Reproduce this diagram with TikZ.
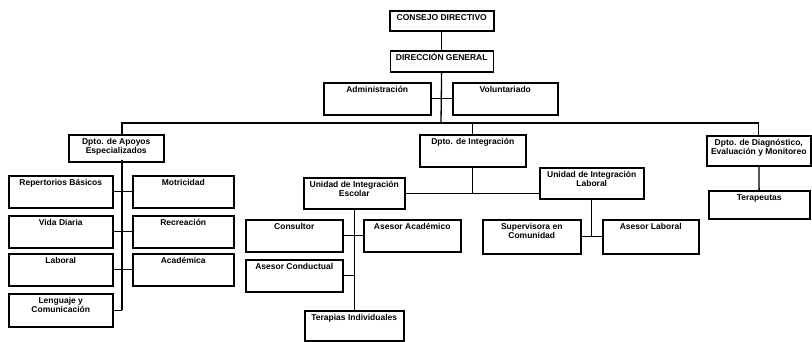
\documentclass[tikz,border=0pt]{standalone}
\usepackage{fontspec}
\setmainfont{Liberation Sans}
\usetikzlibrary{positioning}

\begin{document}
\begin{tikzpicture}[x=1pt,y=-1pt]
\tikzstyle{cargo}=[
        draw,
        rectangle,
        line width=1.5pt,
        anchor=north west,
        align=center,
        inner xsep=2pt,
        inner ysep=3pt,
        text height=6.5pt,
        text depth=19.5pt,
        font=\bfseries\fontsize{8.5}{9.5}\selectfont
]
\tikzstyle{cargodos}=[cargo,text height=16pt]
%estilodelaslineas
\tikzstyle{enlace}=[line width=1.3pt]
\useasboundingbox (0,0) rectangle (812,341);
%nodos
\node[cargo,minimum width=104pt,text depth=7.5pt] (consejo) at (389,10) {CONSEJO DIRECTIVO};
\node[cargo,minimum width=103pt,text depth=8.5pt] (direccion) at (389.5,50) {DIRECCIÓN GENERAL};
\node[cargo,minimum width=107pt] (admin) at (323,82) {Administración};
\node[cargo,minimum width=105pt] (volunt) at (452,82) {Voluntariado};
\node[cargodos,minimum width=95pt,text depth=5pt] (apoyos) at (68,134) {Dpto. de Apoyos\\Especializados};
\node[cargo,minimum width=106pt] (integra) at (419,134) {Dpto. de Integración};
\node[cargodos,minimum width=104pt,text depth=8pt] (diagno) at (706,135) {Dpto. de Diagnóstico,\\Evaluación y Monitoreo};
\node[cargo,minimum width=101pt,text depth=15.5pt] (terapeutas) at (708,190) {Terapeutas};
\node[cargo,minimum width=104pt] (repert) at (8,175) {Repertorios Básicos};
\node[cargo,minimum width=101pt] (motri) at (132,175) {Motricidad};
\node[cargo,minimum width=104pt] (vida) at (8,215) {Vida Diaria};
\node[cargo,minimum width=101pt] (recrea) at (132,215) {Recreación};
\node[cargo,minimum width=104pt] (laboral) at (8,253) {Laboral};
\node[cargo,minimum width=101pt] (academica) at (132,253) {Académica};
\node[cargodos,minimum width=104pt,text depth=11pt] (lenguaje) at (8,293) {Lenguaje y\\Comunicación};
\node[cargodos,minimum width=101pt,text depth=9pt] (escolar) at (303,177) {Unidad de Integración\\Escolar};
\node[cargodos,minimum width=104pt,text depth=9pt] (ulaboral) at (539,167) {Unidad de Integración\\Laboral};
\node[cargo,minimum width=97pt] (consultor) at (245,219) {Consultor};
\node[cargo,minimum width=97pt] (asacad) at (363,219) {Asesor Académico};
\node[cargo,minimum width=97pt] (asconduc) at (245,259) {Asesor Conductual};
\node[cargo,minimum width=99pt,text depth=17.5pt] (terapias) at (304,310) {Terapias Individuales};
\node[cargodos,minimum width=98pt,text depth=12pt] (supervisora) at (482,219) {Supervisora en\\Comunidad};
\node[cargo,minimum width=96pt,text depth=21.5pt] (aslaboral) at (602,219) {Asesor Laboral};
\coordinate (bus) at (441,123);
\coordinate (apoyosx) at (122,160);
%lineas
\draw[enlace] (consejo) -- (direccion);
\draw[enlace] (direccion) -- (bus);
\draw[enlace] (admin) -- (volunt);
\draw[enlace] (apoyos.north -| apoyosx) |- (bus) -| (diagno.north);
\draw[enlace] (bus) -| (integra.north);
\draw[enlace] (apoyosx) -- (lenguaje.east -| apoyosx);
\draw[enlace] (repert) -- (motri);
\draw[enlace] (vida) -- (recrea);
\draw[enlace] (laboral) -- (academica);
\draw[enlace] (lenguaje.east) -- (lenguaje.east -| apoyosx);
\draw[enlace] (integra.south) -- (integra.south |- escolar.east);
\draw[enlace] (escolar.east) -- (escolar.east -| ulaboral.west);
\draw[enlace] (escolar.south) -- (terapias.north);
\draw[enlace] (consultor) -- (asacad);
\draw[enlace] (asconduc.east) -- (asconduc.east -| escolar.south);
\draw[enlace] (ulaboral.south) -- (ulaboral.south |- supervisora.east);
\draw[enlace] (supervisora) -- (aslaboral);
\draw[enlace] (diagno) -- (terapeutas);
\end{tikzpicture}
\end{document}
